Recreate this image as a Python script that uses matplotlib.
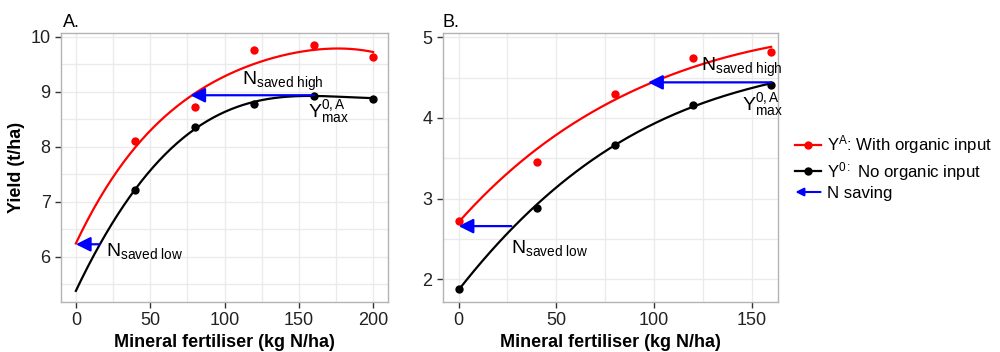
import numpy as np
import matplotlib
matplotlib.use("Agg")
import matplotlib.pyplot as plt
from matplotlib.lines import Line2D
from matplotlib.patches import FancyArrowPatch
from matplotlib.legend_handler import HandlerPatch

plt.rcParams['font.family'] = ['Liberation Sans', 'DejaVu Sans']
plt.rcParams['mathtext.fontset'] = 'custom'
plt.rcParams['mathtext.rm'] = 'Liberation Sans'
plt.rcParams['mathtext.it'] = 'Liberation Sans'

# panel A: observed yields
n_a = [40, 80, 120, 160, 200]
org_a = [8.10, 8.72, 9.76, 9.85, 9.64]
noorg_a = [7.22, 8.36, 8.78, 8.92, 8.88]
# fitted response curves, panel A
curve_x_a = [0, 20, 40, 60, 80, 100, 120, 140, 160, 180, 200]
curve_org_a = [6.24, 7.25, 8.00, 8.55, 8.96, 9.28, 9.53, 9.67, 9.76, 9.78, 9.73]
curve_noorg_a = [5.39, 6.40, 7.22, 7.87, 8.35, 8.64, 8.79, 8.90, 8.94, 8.92, 8.88]
# N saving arrows (x_from, x_to, y)
save_a = [(16, 0, 6.23), (160, 77, 8.94)]

# panel B
n_b = [0, 40, 80, 120, 160]
org_b = [2.72, 3.45, 4.29, 4.74, 4.81]
noorg_b = [1.88, 2.89, 3.67, 4.16, 4.41]
curve_x_b = [0, 20, 40, 60, 80, 100, 120, 140, 160]
curve_org_b = [2.71, 3.20, 3.62, 3.95, 4.22, 4.45, 4.63, 4.77, 4.88]
curve_noorg_b = [1.87, 2.44, 2.93, 3.33, 3.66, 3.93, 4.14, 4.30, 4.43]
save_b = [(27, 0, 2.66), (160, 97, 4.44)]

RED = '#ff0000'
BLUE = '#0000ff'
GRID = '#ebebeb'
BORDER = '#b3b3b3'


def smooth(xs, ys):
    coef = np.polyfit(xs, ys, 4)
    xx = np.linspace(min(xs), max(xs), 200)
    return xx, np.polyval(coef, xx)


def style(ax, xlim, ylim, xticks, yticks, xminor, yminor):
    ax.set_xlim(*xlim)
    ax.set_ylim(*ylim)
    ax.set_xticks(xticks)
    ax.set_yticks(yticks)
    ax.set_xticks(xminor, minor=True)
    ax.set_yticks(yminor, minor=True)
    ax.grid(True, which='both', color=GRID, lw=1.0)
    ax.set_axisbelow(True)
    for s in ax.spines.values():
        s.set_color(BORDER)
        s.set_linewidth(1.0)
    ax.tick_params(which='major', length=4, color='#333333', labelsize=13,
                   labelcolor='#222222', width=1)
    ax.tick_params(which='minor', length=0)
    ax.set_xlabel('Mineral fertiliser (kg N/ha)', fontsize=13, fontweight='bold', labelpad=3)


def panel(ax, n, org, noorg, cx, corg, cnoorg, saves):
    x1, y1 = smooth(cx, corg)
    x2, y2 = smooth(cx, cnoorg)
    ax.plot(x1, y1, color=RED, lw=1.6, zorder=3)
    ax.plot(x2, y2, color='black', lw=1.6, zorder=3)
    ax.scatter(n, org, s=36, color=RED, zorder=4, linewidths=0)
    ax.scatter(n, noorg, s=36, color='black', zorder=4, linewidths=0)
    for xf, xt, y in saves:
        ax.annotate('', xy=(xt, y), xytext=(xf, y),
                    arrowprops=dict(arrowstyle='-|>', color=BLUE, lw=1.6,
                                    mutation_scale=22, shrinkA=0, shrinkB=0),
                    zorder=5)


fig = plt.figure(figsize=(10, 3.52), dpi=100)
ax1 = fig.add_axes([0.061, 0.142, 0.327, 0.764])
ax2 = fig.add_axes([0.443, 0.142, 0.335, 0.764])

panel(ax1, n_a, org_a, noorg_a, curve_x_a, curve_org_a, curve_noorg_a, save_a)
style(ax1, (-10, 210), (5.18, 10.07), [0, 50, 100, 150, 200], [6, 7, 8, 9, 10],
      [25, 75, 125, 175], [5.5, 6.5, 7.5, 8.5, 9.5])
ax1.set_ylabel('Yield (t/ha)', fontsize=13, fontweight='bold', labelpad=4)
ax1.text(-9, 10.1, 'A.', fontsize=13, va='bottom', ha='left')
ax1.text(20, 6.02, r'N$_{\mathrm{saved\ low}}$', fontsize=14)
ax1.text(112, 9.13, r'N$_{\mathrm{saved\ high}}$', fontsize=14)
ax1.text(156, 8.55, r'Y$_{\mathrm{max}}^{\mathrm{0,A}}$', fontsize=14)

panel(ax2, n_b, org_b, noorg_b, curve_x_b, curve_org_b, curve_noorg_b, save_b)
style(ax2, (-8, 163.5), (1.72, 5.05), [0, 50, 100, 150], [2, 3, 4, 5],
      [25, 75, 125], [2.5, 3.5, 4.5])
ax2.text(-8, 5.08, 'B.', fontsize=13, va='bottom', ha='left')
ax2.text(27, 2.33, r'N$_{\mathrm{saved\ low}}$', fontsize=14)
ax2.text(124, 4.58, r'N$_{\mathrm{saved\ high}}$', fontsize=14)
ax2.text(145, 4.1, r'Y$_{\mathrm{max}}^{\mathrm{0,A}}$', fontsize=14)


class ArrowHandler(HandlerPatch):
    def create_artists(self, legend, orig_handle, xdescent, ydescent,
                       width, height, fontsize, trans):
        y = height / 2 - ydescent
        arr = FancyArrowPatch((width - xdescent, y), (-xdescent, y),
                              arrowstyle='-|>', mutation_scale=12,
                              color=BLUE, lw=1.5, shrinkA=0, shrinkB=0)
        arr.set_transform(trans)
        return [arr]


handles = [
    Line2D([], [], color=RED, lw=1.6, marker='o', markersize=5),
    Line2D([], [], color='black', lw=1.6, marker='o', markersize=5),
    FancyArrowPatch((0, 0), (1, 0), color=BLUE),
]
labels = [r'Y$^{\mathrm{A}}$: With organic input',
          r'Y$^{\mathrm{0:}}$ No organic input',
          'N saving']
fig.legend(handles, labels, loc='upper left', bbox_to_anchor=(0.787, 0.645),
           frameon=False, fontsize=12.1, handlelength=1.5, handletextpad=0.4,
           labelspacing=0.2, borderpad=0, numpoints=1,
           handler_map={FancyArrowPatch: ArrowHandler()})

fig.savefig('out.png', dpi=100)
